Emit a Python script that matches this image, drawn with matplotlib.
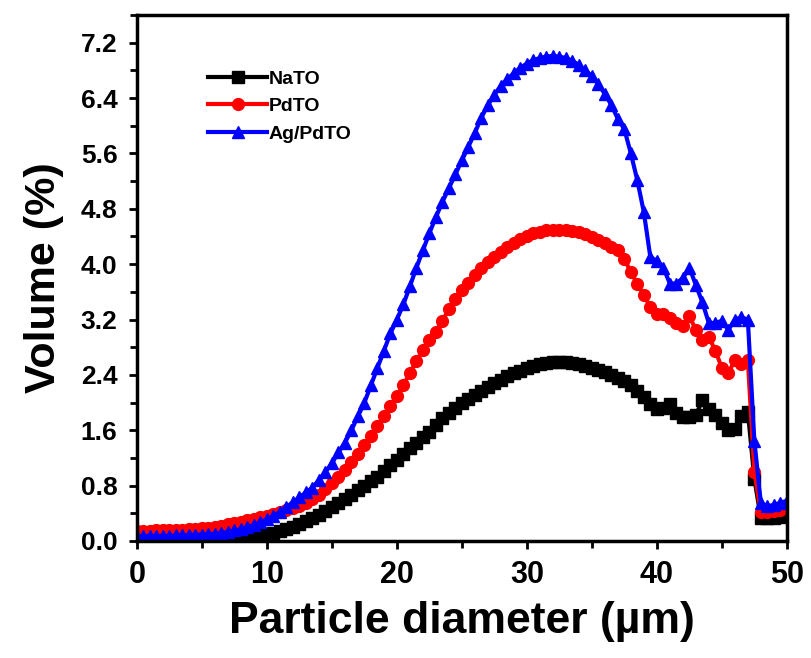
import matplotlib
matplotlib.use("Agg")
import matplotlib.pyplot as plt
from matplotlib.ticker import MultipleLocator, FormatStrFormatter

plt.rcParams["font.family"] = ["Liberation Sans", "DejaVu Sans"]
plt.rcParams["font.weight"] = "bold"

# particle diameter (µm)
diameter = [0, 0.5, 1, 1.5, 2, 2.5, 3, 3.5, 4, 4.5, 5, 5.5, 6, 6.5, 7, 7.5, 8, 8.5, 9, 9.5,
            10, 10.5, 11, 11.5, 12, 12.5, 13, 13.5, 14, 14.5, 15, 15.5, 16, 16.5, 17, 17.5,
            18, 18.5, 19, 19.5, 20, 20.5, 21, 21.5, 22, 22.5, 23, 23.5, 24, 24.5, 25, 25.5,
            26, 26.5, 27, 27.5, 28, 28.5, 29, 29.5, 30, 30.5, 31, 31.5, 32, 32.5, 33, 33.5,
            34, 34.5, 35, 35.5, 36, 36.5, 37, 37.5, 38, 38.5, 39, 39.5, 40, 40.5, 41, 41.5,
            42, 42.5, 43, 43.5, 44, 44.5, 45, 45.5, 46, 46.5, 47, 47.5, 48, 48.5, 49, 49.5, 50]

# volume (%)
nato = [0.04, 0.04, 0.04, 0.04, 0.04, 0.03, 0.03, 0.03, 0.03, 0.03, 0.03, 0.03, 0.03, 0.03,
        0.03, 0.04, 0.04, 0.05, 0.06, 0.08, 0.10, 0.12, 0.14, 0.17, 0.20, 0.24, 0.29, 0.33,
        0.38, 0.43, 0.49, 0.55, 0.60, 0.66, 0.73, 0.80, 0.86, 0.93, 1.01, 1.09, 1.17, 1.26,
        1.34, 1.42, 1.50, 1.58, 1.68, 1.77, 1.85, 1.92, 1.99, 2.05, 2.11, 2.17, 2.23, 2.28,
        2.33, 2.38, 2.42, 2.46, 2.50, 2.53, 2.55, 2.57, 2.58, 2.58, 2.58, 2.57, 2.55, 2.53,
        2.50, 2.47, 2.44, 2.40, 2.36, 2.31, 2.25, 2.17, 2.08, 1.98, 1.90, 1.92, 1.98, 1.85,
        1.79, 1.79, 1.82, 2.03, 1.90, 1.82, 1.70, 1.60, 1.62, 1.80, 1.87, 0.90, 0.33, 0.33,
        0.33, 0.35, 0.38]

pdto = [0.14, 0.14, 0.14, 0.15, 0.15, 0.15, 0.16, 0.16, 0.17, 0.17, 0.18, 0.19, 0.20, 0.22,
        0.24, 0.26, 0.28, 0.30, 0.32, 0.34, 0.36, 0.39, 0.42, 0.45, 0.48, 0.51, 0.55, 0.60,
        0.67, 0.75, 0.84, 0.93, 1.03, 1.14, 1.26, 1.38, 1.52, 1.66, 1.80, 1.95, 2.10, 2.25,
        2.43, 2.60, 2.76, 2.90, 3.02, 3.18, 3.35, 3.50, 3.62, 3.73, 3.84, 3.94, 4.03, 4.11,
        4.18, 4.25, 4.31, 4.36, 4.41, 4.45, 4.47, 4.49, 4.50, 4.50, 4.49, 4.48, 4.46, 4.43,
        4.39, 4.35, 4.30, 4.25, 4.20, 4.08, 3.88, 3.72, 3.55, 3.38, 3.28, 3.28, 3.22, 3.15,
        3.10, 3.25, 3.05, 2.90, 2.95, 2.75, 2.50, 2.42, 2.62, 2.55, 2.62, 1.00, 0.42, 0.42,
        0.43, 0.45, 0.50]

ag_pdto = [0.07, 0.07, 0.07, 0.07, 0.07, 0.07, 0.08, 0.08, 0.08, 0.09, 0.09, 0.10, 0.10, 0.11,
           0.13, 0.15, 0.17, 0.20, 0.23, 0.27, 0.31, 0.36, 0.42, 0.49, 0.56, 0.63, 0.70, 0.77,
           0.88, 1.00, 1.12, 1.28, 1.42, 1.60, 1.80, 2.00, 2.25, 2.50, 2.75, 3.00, 3.20, 3.42,
           3.68, 3.95, 4.20, 4.45, 4.68, 4.90, 5.10, 5.30, 5.50, 5.70, 5.90, 6.12, 6.30, 6.45,
           6.58, 6.68, 6.76, 6.84, 6.90, 6.95, 6.98, 7.00, 7.01, 7.00, 6.98, 6.94, 6.88, 6.80,
           6.72, 6.60, 6.46, 6.30, 6.10, 5.95, 5.60, 5.21, 4.75, 4.10, 4.05, 3.95, 3.72, 3.72,
           3.80, 3.95, 3.70, 3.45, 3.15, 3.15, 3.18, 3.05, 3.20, 3.23, 3.20, 1.45, 0.55, 0.50,
           0.52, 0.55, 0.58]

fig = plt.figure(figsize=(8.12, 6.58), dpi=100)
ax = fig.add_axes([0.1687, 0.178, 0.8003, 0.799])

ax.plot(diameter, nato, color="black", marker="s", markersize=8.5, linewidth=3, label="NaTO")
ax.plot(diameter, pdto, color="red", marker="o", markersize=8.5, linewidth=3, label="PdTO")
ax.plot(diameter, ag_pdto, color="blue", marker="^", markersize=9, linewidth=3, label="Ag/PdTO")

ax.set_xlim(0, 50)
ax.set_ylim(0, 7.6)
ax.xaxis.set_major_locator(MultipleLocator(10))
ax.xaxis.set_minor_locator(MultipleLocator(5))
ax.yaxis.set_major_locator(MultipleLocator(0.8))
ax.yaxis.set_minor_locator(MultipleLocator(0.4))
ax.yaxis.set_major_formatter(FormatStrFormatter("%.1f"))

for s in ax.spines.values():
    s.set_linewidth(2.5)
ax.tick_params(axis="both", which="major", direction="out", length=6, width=2)
ax.tick_params(axis="both", which="minor", direction="out", length=5, width=2)
ax.tick_params(axis="x", labelsize=22, pad=8)
ax.tick_params(axis="y", labelsize=19, pad=8)

ax.set_xlabel("Particle diameter (µm)", fontsize=32, fontweight="bold", labelpad=8)
ax.set_ylabel("Volume (%)", fontsize=31, fontweight="bold", labelpad=12)

leg = ax.legend(loc="upper left", bbox_to_anchor=(0.11, 0.895), frameon=False,
                fontsize=14, handlelength=3.0, handletextpad=0.1, numpoints=1,
                borderpad=0, borderaxespad=0, labelspacing=0.5)
for t in leg.get_texts():
    t.set_fontweight("bold")

fig.savefig("out.png", dpi=100)
